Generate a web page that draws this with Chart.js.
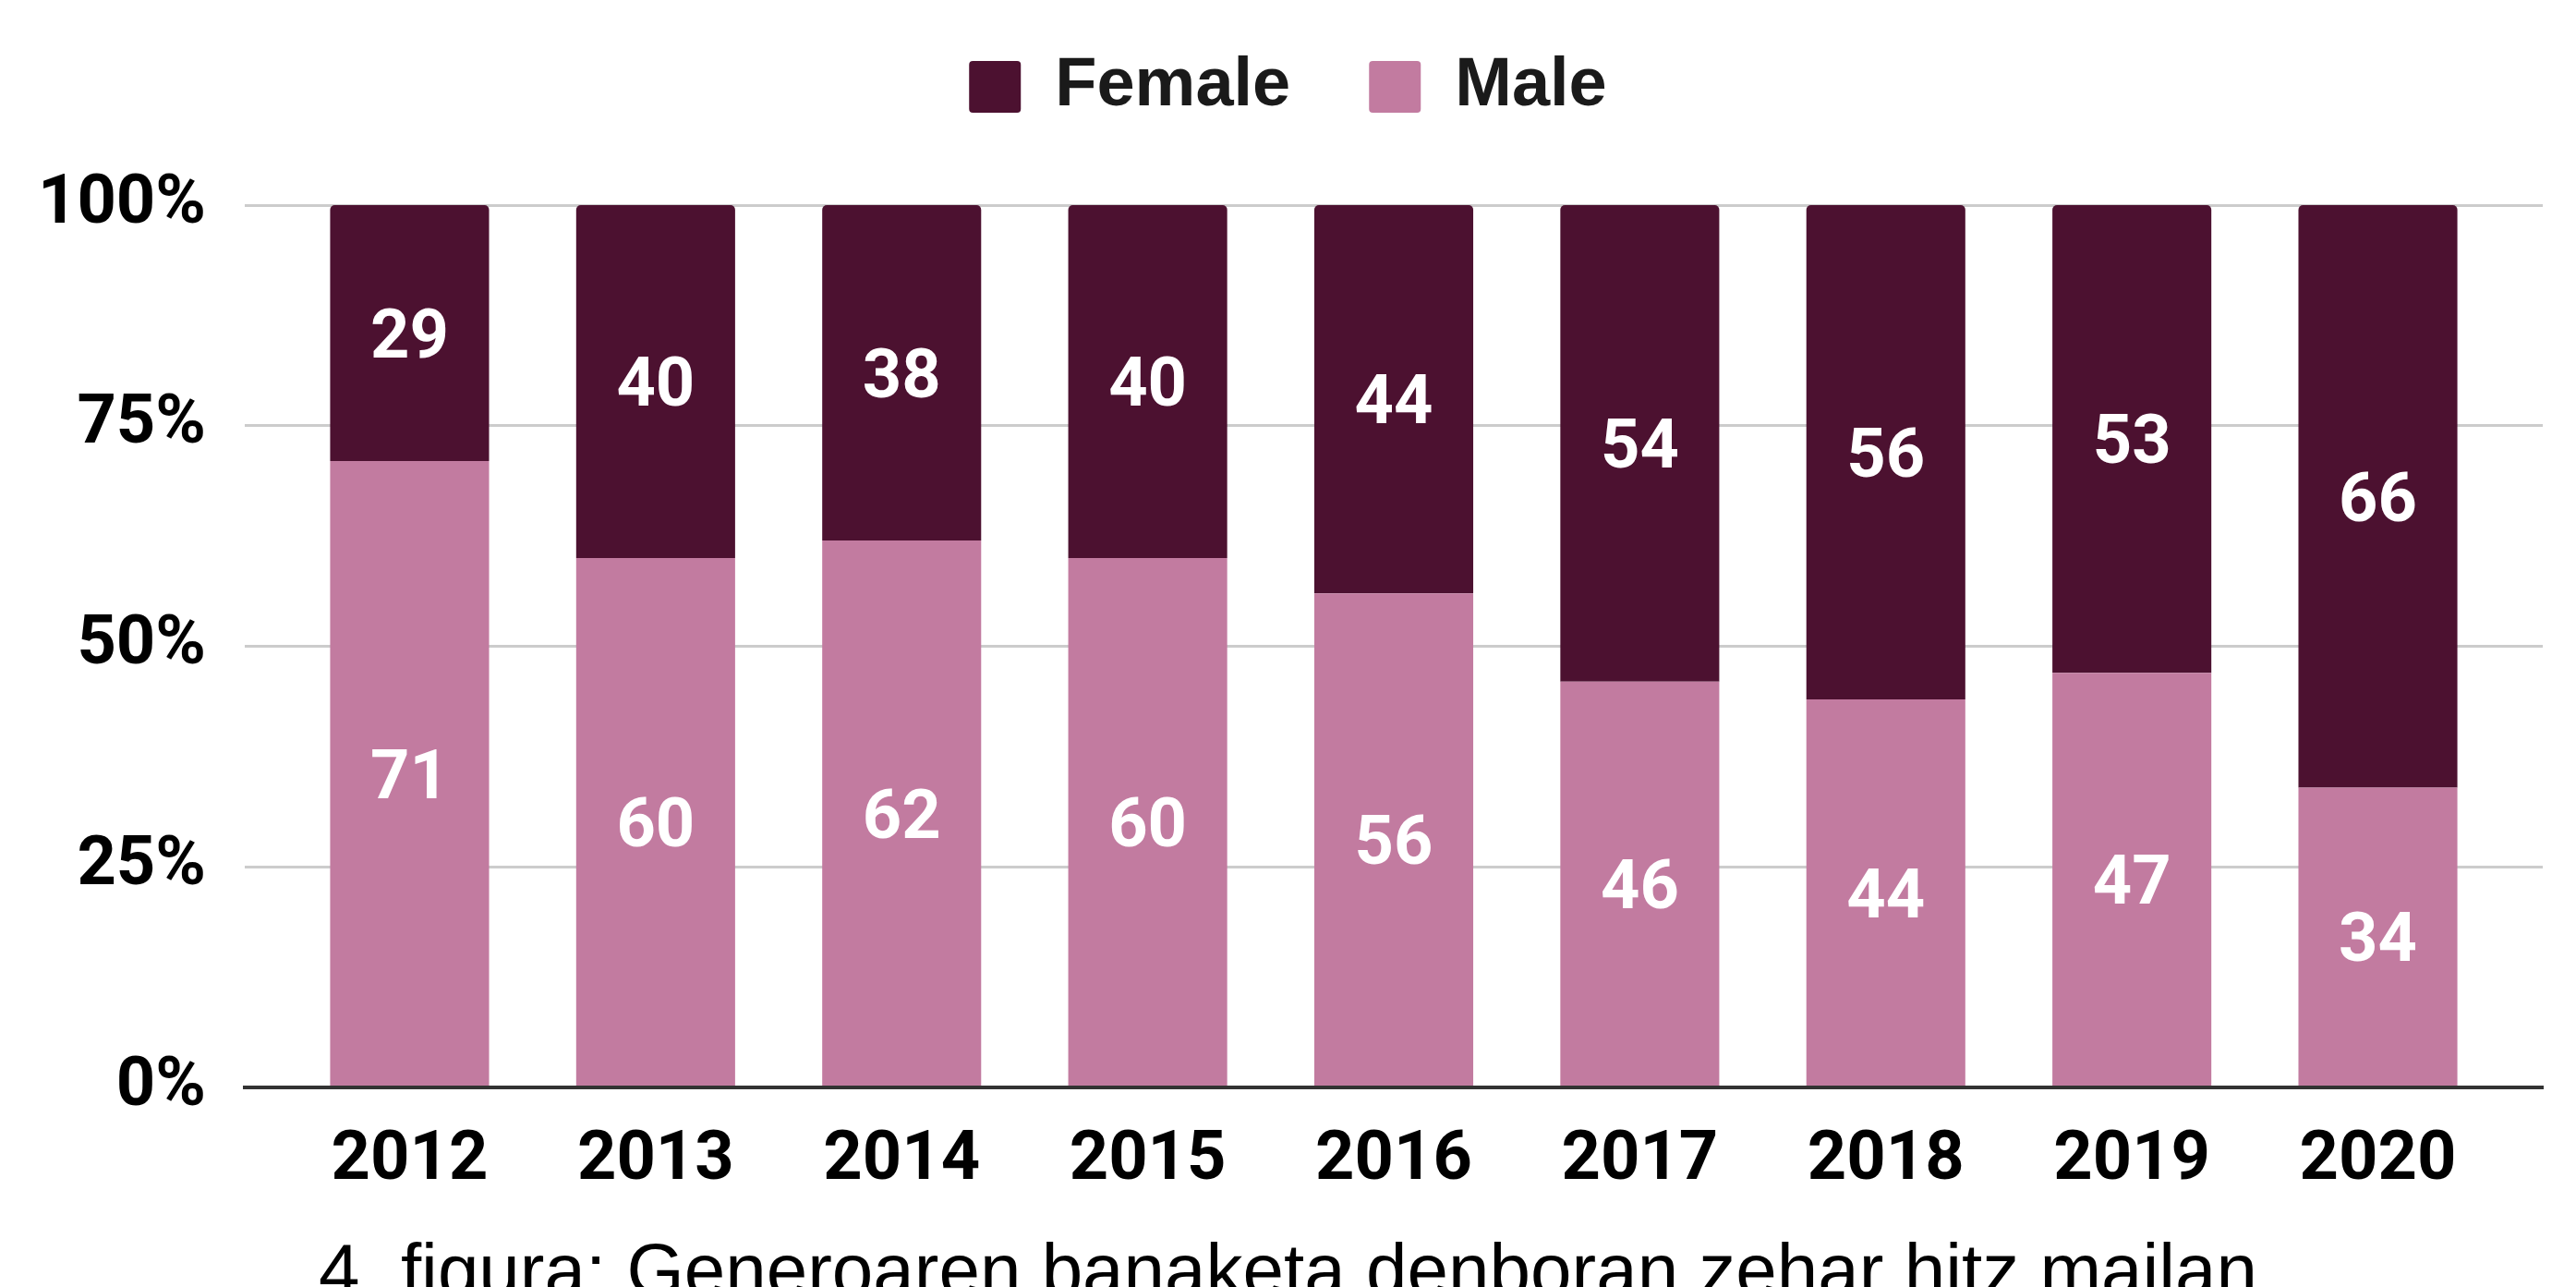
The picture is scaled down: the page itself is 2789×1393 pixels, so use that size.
<!DOCTYPE html>
<html>
<head>
<meta charset="utf-8">
<title>Generoaren banaketa</title>
<script src="https://cdn.jsdelivr.net/npm/chart.js@4.4.1/dist/chart.umd.min.js"></script>
<style>
  html, body { margin: 0; padding: 0; background: #ffffff; overflow: hidden; }
  #conteiner { width: 2789px; height: 1393px; overflow: hidden; }
  canvas { display: block; }
</style>
</head>
<body>
<div id="conteiner"><canvas id="grafico" width="2789" height="1422"></canvas></div>
<script>
// ---------------------------------------------------------------
// data
// ---------------------------------------------------------------
const years = ["2012", "2013", "2014", "2015", "2016", "2017", "2018", "2019", "2020"];
const femaleValues = [29, 40, 38, 40, 44, 54, 56, 53, 66];
const maleValues = [71, 60, 62, 60, 56, 46, 44, 47, 34];
const yTickValues = [0, 25, 50, 75, 100];
const caption = "4. figura: Generoaren banaketa denboran zehar hitz mailan";

const colorFemale = "#4c1130";
const colorMale = "#c27ba0";
const boldFont = { family: "Roboto", size: 74, weight: "bold" };

// ---------------------------------------------------------------
// plugins
// ---------------------------------------------------------------

// white numbers in the middle of each segment
const valueLabels = {
  id: "valueLabels",
  afterDatasetsDraw(chart) {
    const ctx = chart.ctx;
    const capHalf = 74 * 0.711 / 2;
    ctx.save();
    ctx.font = "bold 74px Roboto";
    ctx.fillStyle = "#ffffff";
    ctx.textAlign = "center";
    ctx.textBaseline = "alphabetic";
    chart.data.datasets.forEach((ds, d) => {
      const meta = chart.getDatasetMeta(d);
      meta.data.forEach((bar, i) => {
        const mid = (bar.y + bar.base) / 2;
        ctx.fillText(String(ds.data[i].y), bar.x, mid + capHalf);
      });
    });
    ctx.restore();
  },
};

// extra space between legend and plot
const legendGap = {
  id: "legendGap",
  beforeInit(chart) {
    const fitOriginal = chart.legend.fit;
    chart.legend.fit = function () {
      fitOriginal.call(this);
      this.height += 81;
    };
  },
};

// ---------------------------------------------------------------
// chart
// ---------------------------------------------------------------
new Chart(document.getElementById("grafico"), {
  type: "bar",
  data: {
    datasets: [
      {
        label: "Male",
        data: maleValues.map((v, i) => ({ x: i, y: v })),
        backgroundColor: colorMale,
        borderWidth: 0,
      },
      {
        label: "Female",
        data: femaleValues.map((v, i) => ({ x: i, y: v })),
        backgroundColor: colorFemale,
        borderWidth: 0,
        borderRadius: { topLeft: 5, topRight: 5, bottomLeft: 0, bottomRight: 0 },
      },
    ],
  },
  options: {
    responsive: false,
    animation: false,
    layout: { padding: { top: -28, left: 36, right: 36, bottom: 0 } },
    datasets: { bar: { categoryPercentage: 1, barPercentage: 0.646 } },
    plugins: {
      legend: {
        position: "top",
        reverse: true,
        labels: {
          boxWidth: 56,
          boxHeight: 56,
          padding: 85,
          useBorderRadius: true,
          borderRadius: 4,
          color: "#1a1a1a",
          font: { family: "'Liberation Sans', Arial", size: 74, weight: "bold" },
        },
      },
      title: {
        display: true,
        position: "bottom",
        text: caption,
        color: "#000000",
        font: { family: "'Liberation Sans', Arial", size: 80, weight: "normal", lineHeight: 1.05 },
        padding: { top: 0, bottom: 0 },
      },
      tooltip: { enabled: false },
    },
    scales: {
      x: {
        type: "linear",
        stacked: true,
        offset: false,
        min: -0.67,
        max: 8.67,
        afterBuildTicks: (axis) => {
          axis.ticks = years.map((_, i) => ({ value: i }));
        },
        grid: { display: false, drawTicks: false, offset: false },
        border: { display: true, color: "#333333", width: 4, z: 1 },
        ticks: {
          padding: 36,
          maxRotation: 0,
          autoSkip: false,
          color: "#000000",
          font: boldFont,
          callback: (v) => years[v],
        },
      },
      y: {
        stacked: true,
        min: 0,
        max: 100,
        afterBuildTicks: (axis) => {
          axis.ticks = yTickValues.map((v) => ({ value: v }));
        },
        afterFit: (axis) => {
          axis.width = 229;
        },
        grid: { color: "#cccccc", lineWidth: 3, drawTicks: false },
        border: { display: false },
        ticks: {
          padding: 42,
          color: "#000000",
          font: boldFont,
          callback: (v) => v + "%",
        },
      },
    },
  },
  plugins: [valueLabels, legendGap],
});
</script>
</body>
</html>
